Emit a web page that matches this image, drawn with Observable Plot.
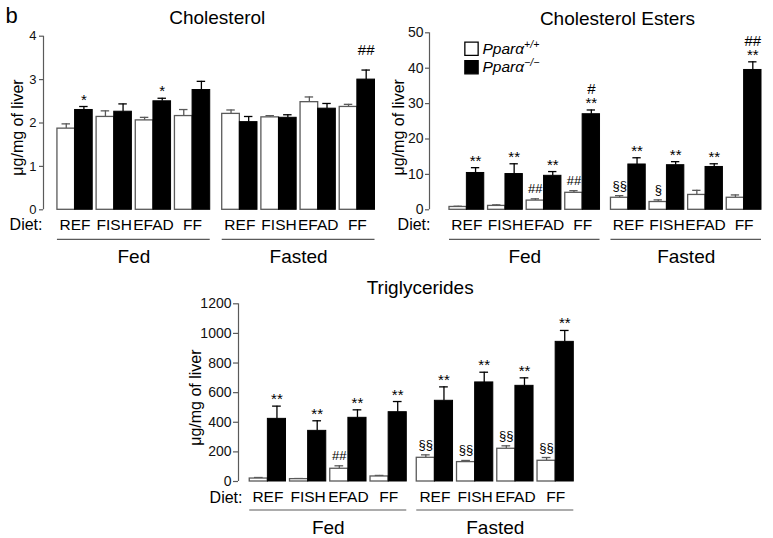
<!DOCTYPE html>
<html><head><meta charset="utf-8">
<script src="https://cdn.jsdelivr.net/npm/d3@7"></script>
<script src="https://cdn.jsdelivr.net/npm/@observablehq/plot@0.6"></script>
<style>
body{margin:0;background:#fff;}
#fig{position:relative;width:773px;height:538px;overflow:hidden;background:#fff;}
#fig svg{position:absolute;overflow:visible;}
</style></head><body><div id="fig"></div>
<script>
// ---- categories ----
const panelLetter = "b";
const diets = ["REF", "FISH", "EFAD", "FF"];
const states = ["Fed", "Fasted"];
const genotypes = ["Pparα+/+", "Pparα−/−"];
const dietLabel = "Diet:";
const yLabel = "μg/mg of liver";

// ---- Cholesterol (order: Fed REF, FISH, EFAD, FF, Fasted REF, FISH, EFAD, FF) ----
const cholTitle = "Cholesterol";
const cholTicks = [0, 1, 2, 3, 4];
const cholWT = [1.87, 2.14, 2.06, 2.16, 2.21, 2.13, 2.48, 2.37];
const cholWTsem = [0.11, 0.14, 0.07, 0.15, 0.09, 0.04, 0.12, 0.06];
const cholKO = [2.30, 2.26, 2.50, 2.76, 2.02, 2.12, 2.33, 3.00];
const cholKOsem = [0.08, 0.18, 0.07, 0.20, 0.13, 0.07, 0.12, 0.22];
const cholWTsig = ["", "", "", "", "", "", "", ""];
const cholKOsig = ["*", "", "*", "", "", "", "", "##\n\u00a0"];

// ---- Cholesterol Esters ----
const ceTitle = "Cholesterol Esters";
const ceTicks = [0, 10, 20, 30, 40, 50];
const ceWT = [0.8, 1.1, 2.6, 4.8, 3.4, 2.2, 4.2, 3.4];
const ceWTsem = [0.2, 0.3, 0.5, 0.6, 0.6, 0.6, 1.3, 0.8];
const ceKO = [10.4, 10.1, 9.6, 27.0, 12.8, 12.6, 12.1, 39.5];
const ceKOsem = [1.5, 2.9, 1.2, 1.2, 1.9, 1.0, 0.9, 2.3];
const ceWTsig = ["", "", "##", "##", "§§", "§", "", ""];
const ceKOsig = ["**", "**", "**", "#\n**", "**", "**", "**", "##\n**"];

// ---- Triglycerides ----
const tgTitle = "Triglycerides";
const tgTicks = [0, 200, 400, 600, 800, 1000, 1200];
const tgWT = [20, 16, 86, 34, 160, 131, 221, 140];
const tgWTsem = [7, 4, 20, 7, 20, 11, 20, 22];
const tgKO = [423, 342, 430, 468, 545, 669, 646, 943];
const tgKOsem = [86, 68, 54, 72, 94, 69, 54, 77];
const tgWTsig = ["", "", "##", "", "§§", "§§", "§§", "§§"];
const tgKOsig = ["**", "**", "**", "**", "**", "**", "**", "**"];

const FONT = "'Liberation Sans', Arial, Helvetica, sans-serif";
const GREY = "#5a5a5a";
const PAIR_GAP = 0.22;

function panel(cfg) {
  const L = cfg.layout;
  const groupSpan = 8 + 3 * PAIR_GAP;
  const xMax = L.lead + 2 * groupSpan + L.gap;
  const start = (s, d, k) => L.lead + s * (groupSpan + L.gap) + d * (2 + PAIR_GAP) + k;
  const rows = [];
  states.forEach((st, s) => diets.forEach((dt, d) => [0, 1].forEach(k => {
    const i = s * 4 + d;
    const v = k ? cfg.ko[i] : cfg.wt[i];
    const e = k ? cfg.koSem[i] : cfg.wtSem[i];
    rows.push({state: st, diet: dt, geno: genotypes[k], k, x1: start(s, d, k), x2: start(s, d, k) + 1,
      xc: start(s, d, k) + 0.5, v, top: v + e, sig: k ? cfg.koSig[i] : cfg.wtSig[i]});
  })));
  const wtRows = rows.filter(r => r.k === 0), koRows = rows.filter(r => r.k === 1);
  const dietRows = [];
  states.forEach((st, s) => diets.forEach((dt, d) => dietRows.push({diet: dt, xc: start(s, d, 0) + 1})));
  const groupRows = states.map((st, s) => ({state: st, x1: start(s, 0, 0), x2: start(s, 3, 1) + 1,
    xc: (start(s, 0, 0) + start(s, 3, 1) + 1) / 2}));
  const ymax = cfg.ticks[cfg.ticks.length - 1];

  const marks = [
    Plot.ruleX([0], {y1: 0, y2: ymax, stroke: GREY, strokeWidth: 1.2}),
    Plot.axisY({ticks: cfg.ticks, tickSize: L.tickSize, tickPadding: L.tickPad, fontSize: L.tickFont,
      stroke: GREY, fill: "#111", strokeWidth: 1.2, label: null, tickFormat: d => String(d)}),
    // error bars
    Plot.ruleX(rows, {x: "xc", y1: "v", y2: "top", stroke: r => r.k ? "#000" : GREY, strokeWidth: 1.3}),
    Plot.ruleY(rows, {y: "top", x1: r => r.xc - 0.24, x2: r => r.xc + 0.24, stroke: r => r.k ? "#000" : GREY, strokeWidth: 1.3}),
    // bars
    Plot.rectY(wtRows, {x1: "x1", x2: "x2", y: "v", fill: "#fff", stroke: GREY, strokeWidth: 1.3}),
    Plot.rectY(koRows, {x1: "x1", x2: "x2", y: "v", fill: "#000", stroke: "#000", strokeWidth: 1}),
    // significance marks
    Plot.text(koRows, {x: "xc", y: "top", text: "sig", lineAnchor: "bottom", dy: -2, fontSize: 15, lineHeight: 0.9}),
    Plot.text(wtRows, {x: "xc", y: "top", text: "sig", lineAnchor: "bottom", dy: -6, fontSize: 13, lineHeight: 1.05}),
    // diet labels, group lines, group labels
    Plot.text([dietLabel], {frameAnchor: "bottom-left", textAnchor: "end", lineAnchor: "middle", dx: L.dietDx, dy: L.labelDy, fontSize: 16}),
    Plot.text(dietRows, {x: "xc", text: "diet", frameAnchor: "bottom", lineAnchor: "middle", dy: L.labelDy, fontSize: 15.5}),
    Plot.ruleY(groupRows, {y: () => 0, x1: "x1", x2: "x2", dy: L.lineDy, stroke: GREY, strokeWidth: 1.2}),
    Plot.text(groupRows, {x: "xc", text: "state", frameAnchor: "bottom", lineAnchor: "middle", dy: L.groupDy, fontSize: 19}),
    // title & y label
    Plot.text([cfg.title], {frameAnchor: "top", lineAnchor: "middle", dx: L.titleDx, dy: L.titleDy, fontSize: 19}),
    Plot.text([yLabel], {frameAnchor: "left", textAnchor: "middle", lineAnchor: "middle", rotate: -90, dx: L.yLabDx, dy: L.yLabDy, fontSize: 16})
  ];
  if (cfg.letter) marks.push(Plot.text([cfg.letter], {frameAnchor: "top-left", textAnchor: "start", lineAnchor: "middle", dx: -38, dy: -20, fontSize: 22}));
  if (cfg.legend) {
    genotypes.forEach((g, k) => {
      marks.push(Plot.dot([g], {frameAnchor: "top-left", dx: 42, dy: 16 + k * 18.4, symbol: "square", r: 7.5,
        fill: k ? "#000" : "#fff", stroke: "#000", strokeWidth: 1.3}));
      marks.push(Plot.text([g], {frameAnchor: "top-left", textAnchor: "start", lineAnchor: "middle", dx: 53, dy: 16 + k * 18.4,
        fontSize: 15.5, fontStyle: "italic"}));
    });
  }
  const svg = Plot.plot({
    width: L.width, height: L.height,
    marginLeft: L.mL, marginRight: L.mR, marginTop: L.mT, marginBottom: L.mB,
    x: {domain: [0, xMax], axis: null},
    y: {domain: [0, ymax], axis: null},
    style: {fontFamily: FONT, background: "transparent", overflow: "visible", color: "#000"},
    marks
  });
  svg.style.left = L.left + "px";
  svg.style.top = L.top + "px";
  // superscripts for genotype labels
  svg.querySelectorAll("text").forEach(t => {
    const m = t.textContent.match(/^(Pparα)(\+\/\+|−\/−)$/);
    if (m && t.children.length === 0) {
      t.textContent = "";
      const a = document.createElementNS("http://www.w3.org/2000/svg", "tspan");
      a.textContent = m[1];
      const b = document.createElementNS("http://www.w3.org/2000/svg", "tspan");
      b.textContent = m[2];
      b.setAttribute("font-size", "10.5");
      b.setAttribute("dy", "-6");
      t.appendChild(a); t.appendChild(b);
    }
  });
  document.getElementById("fig").appendChild(svg);
}

panel({title: cholTitle, ticks: cholTicks, wt: cholWT, wtSem: cholWTsem, ko: cholKO, koSem: cholKOsem,
  wtSig: cholWTsig, koSig: cholKOsig, letter: panelLetter,
  layout: {left: 0, top: 0, width: 390, height: 270, mL: 43, mR: 15.5, mT: 35.7, mB: 60.7,
    lead: 0.79, gap: 0.68, tickSize: 4, tickPad: 3, tickFont: 13, dietDx: -1, labelDy: 15.5, lineDy: 29.5, groupDy: 47.5,
    titleDx: 8, titleDy: -18, yLabDx: -26, yLabDy: 4.5}});

panel({title: ceTitle, ticks: ceTicks, wt: ceWT, wtSem: ceWTsem, ko: ceKO, koSem: ceKOsem,
  wtSig: ceWTsig, koSig: ceKOsig, legend: true,
  layout: {left: 390, top: 0, width: 383, height: 270, mL: 39, mR: 12, mT: 32.3, mB: 60.7,
    lead: 1.15, gap: 0.63, tickSize: 4, tickPad: 2, tickFont: 14, dietDx: 1, labelDy: 15, lineDy: 29.5, groupDy: 47.5,
    titleDx: 22, titleDy: -14.3, yLabDx: -31, yLabDy: 6}});

panel({title: tgTitle, ticks: tgTicks, wt: tgWT, wtSem: tgWTsem, ko: tgKO, koSem: tgKOsem,
  wtSig: tgWTsig, koSig: tgKOsig,
  layout: {left: 160, top: 270, width: 440, height: 268, mL: 78, mR: 26.7, mT: 33.3, mB: 57,
    lead: 0.62, gap: 0.55, tickSize: 5, tickPad: 2, tickFont: 14, dietDx: 4, labelDy: 16, lineDy: 28.5, groupDy: 46,
    titleDx: 14, titleDy: -16, yLabDx: -43, yLabDy: 5}});
</script></body></html>
